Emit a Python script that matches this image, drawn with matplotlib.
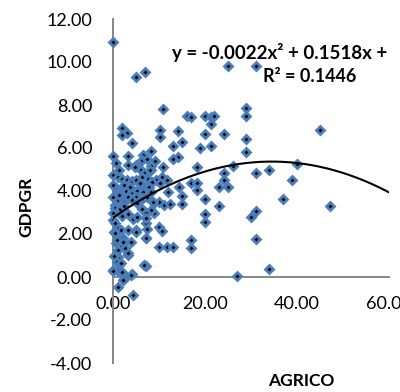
import numpy as np
import matplotlib
matplotlib.use("Agg")
import matplotlib.pyplot as plt

plt.rcParams['font.family'] = ['Lato', 'DejaVu Sans']

# AGRICO (x) and GDPGR (y) values
agrico = [
    0.0, 4.9, 7.0, 25.0, 31.0,
    10.9, 16.0, 17.0, 20.1, 21.2, 22.0, 21.2, 28.9, 28.9,
    1.9, 3.1, 1.9, 4.2,
    10.2, 10.2, 14.1, 15.0, 13.0, 19.0, 20.1, 21.2, 24.2, 28.9, 28.9, 44.9,
    14.1, 13.0, 10.9, 18.2, 26.1, 24.2, 24.2, 23.1, 25.0, 31.0, 34.0, 40.0, 38.9,
    16.9, 18.2, 18.2, 14.3, 12.0, 15.0, 10.7, 11.8, 9.4,
    20.1, 37.0, 23.1, 47.1, 20.1, 20.1, 30.0, 31.0, 31.0, 34.0, 27.0,
    10.1, 10.7, 10.1, 11.8, 13.0, 17.0, 17.0, 7.2, 7.2, 7.2,
    9.0, 9.0, 11.0, 12.5, 15.0, 10.3, 10.1, 8.6,
    8.3, 9.2, 8.3,
    0.0, 3.2, 6.6, 3.2, 5.1, 4.7, 6.2, 7.3, 8.3, 8.1, 6.0, 6.8, 7.5,
    0.0, 1.0, 2.0, 3.0, 4.1, 5.1, 6.2, 5.9, 7.3, 8.4, 6.8, 7.9,
    0.9, 1.8, 2.8, 4.1, 5.3, 6.6, 8.3,
    0.0, 1.7, 3.2, 5.1, 6.6, 7.4,
    1.1, 2.4, 4.1, 5.3, 0.4,
    0.4, 1.5, 6.2, 8.3, 0.0, 3.2, 7.1, 0.0, 1.9, 4.3, 5.3, 7.1,
    1.1, 1.7, 3.2, 5.1, 7.3,
    1.1, 2.1, 3.9, 1.1, 1.5, 2.6, 1.1, 3.2, 1.1, 0.9, 1.7,
    0.0, 1.1, 2.1, 4.1, 1.1, 4.3, 2.3,
    0.5, 2.3, 1.3, 0.3, 0.6, 0.2, 2.5, 0.5, 1.2, 3.6, 0.0, 0.7,
    0.4, 0.9, 2.1, 5.1, 7.1, 6.8, 1.9, 3.9, 3.2, 0.0, 2.1,
]
gdpgr = [
    10.93, 9.3, 9.53, 9.8, 9.8,
    7.8, 7.5, 7.45, 7.5, 7.44, 7.5, 7.1, 7.86, 7.5,
    6.93, 6.7, 6.6, 6.23,
    6.84, 6.5, 6.8, 6.3, 6.1, 6.0, 6.65, 6.1, 6.65, 6.4, 5.8, 6.84,
    5.6, 5.5, 5.1, 5.1, 5.16, 4.83, 4.5, 4.2, 4.2, 4.83, 5.0, 5.25, 4.5,
    4.37, 4.37, 4.05, 4.19, 3.95, 3.75, 4.65, 4.5, 4.5,
    3.62, 3.65, 3.3, 3.3, 2.93, 2.56, 2.8, 3.07, 1.77, 0.37, 0.05,
    2.33, 2.16, 1.4, 1.4, 1.4, 1.72, 1.33, 1.8, 0.51, 2.51,
    2.98, 3.44, 3.35, 3.4, 3.38, 4.37, 3.49, 3.49,
    5.86, 5.4, 4.98,
    5.63, 5.63, 5.67, 5.2, 5.2, 5.12, 5.44, 5.5, 5.16, 5.0, 4.98, 4.84, 4.6,
    4.74, 4.65, 4.56, 4.5, 4.45, 4.5, 4.65, 4.37, 4.25, 4.42, 4.14, 4.2,
    4.05, 3.95, 4.0, 3.95, 4.0, 3.95, 3.95,
    3.72, 3.72, 3.72, 3.72, 3.67, 3.72,
    3.58, 3.49, 3.58, 3.44, 3.35,
    3.2, 3.16, 3.16, 3.12, 3.0, 2.93, 2.98, 2.65, 2.84, 2.72, 2.8, 2.74,
    2.28, 2.19, 2.19, 2.19, 2.23,
    1.86, 1.81, 1.63, 1.58, 1.4, 1.35, 1.26, 1.02, 0.93, 0.7, 0.65,
    0.33, 0.28, 0.14, 0.14, -0.47, -0.86, -0.1,
    4.2, 4.3, 5.0, 2.1, 1.6, 1.0, 3.3, 2.5, 3.8, 4.2, 4.3, 5.3,
    2.05, 1.72, 1.63, 2.09, 1.81, 0.56, 0.23, 0.09, 1.12, 0.28, -0.14,
]

# trendline coefficients (from the chart label; constant estimated)
coef_a, coef_b, coef_c = -0.0022, 0.1518, 2.75
eq_text = "y = -0.0022x² + 0.1518x +"
r2_text = "R² = 0.1446"

x_ticks = [0, 20, 40, 60]
y_ticks = [-4, -2, 0, 2, 4, 6, 8, 10, 12]

fig = plt.figure(figsize=(4.0, 3.92), dpi=100)
ax = fig.add_axes([113/400, 1 - 363/392, 276/400, 344/392])

ax.plot(agrico, gdpgr, linestyle='none', marker='D', markersize=3.6,
        markerfacecolor='black', markeredgecolor='#4A7EBB',
        markeredgewidth=2.0, zorder=3, clip_on=False)

xs = np.linspace(0, 60, 300)
ax.plot(xs, coef_a * xs**2 + coef_b * xs + coef_c, color='black', lw=1.5, zorder=4)

ax.set_xlim(0, 59)
ax.set_ylim(-4, 12)
ax.set_xticks(x_ticks)
ax.set_xticklabels([f"{v:.2f}" for v in x_ticks])
ax.set_yticks(y_ticks)
ax.set_yticklabels([f"{v:.2f}" for v in y_ticks])

for s in ['top', 'right']:
    ax.spines[s].set_visible(False)
ax.spines['bottom'].set_position(('data', 0))
ax.spines['left'].set_position(('data', 0))
for s in ['bottom', 'left']:
    ax.spines[s].set_color('#868686')
    ax.spines[s].set_linewidth(1.4)

ax.tick_params(axis='both', length=0, labelsize=13, colors='black')
ax.tick_params(axis='y', pad=15)
ax.tick_params(axis='x', pad=14)

fig.text(26/400, 1 - 207/392, "GDPGR", rotation=90, ha='center', va='center',
         fontsize=12.5, fontweight='bold')
fig.text(301/400, 1 - 381/392, "AGRICO", ha='center', va='center',
         fontsize=12.5, fontweight='bold')
fig.text(172/400, 1 - 52/392, eq_text, ha='left', va='center',
         fontsize=13.5, fontweight='bold')
fig.text(310/400, 1 - 77/392, r2_text, ha='center', va='center',
         fontsize=13, fontweight='bold')

fig.savefig("out.png", dpi=100)
